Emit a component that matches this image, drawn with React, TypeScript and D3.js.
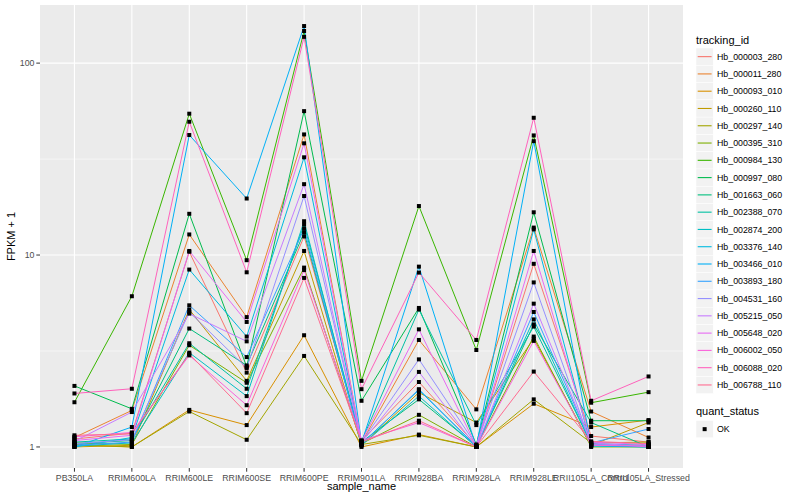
import * as d3 from 'd3';

const sampleNames = [
  'PB350LA', 'RRIM600LA', 'RRIM600LE', 'RRIM600SE', 'RRIM600PE', 'RRIM901LA',
  'RRIM928BA', 'RRIM928LA', 'RRIM928LE', 'RRII105LA_Control', 'RRII105LA_Stressed',
];

const trackingIds = [
  'Hb_000003_280', 'Hb_000011_280', 'Hb_000093_010', 'Hb_000260_110', 'Hb_000297_140',
  'Hb_000395_310', 'Hb_000984_130', 'Hb_000997_080', 'Hb_001663_060', 'Hb_002388_070',
  'Hb_002874_200', 'Hb_003376_140', 'Hb_003466_010', 'Hb_003893_180', 'Hb_004531_160',
  'Hb_005215_050', 'Hb_005648_020', 'Hb_006002_050', 'Hb_006088_020', 'Hb_006788_110',
];

// FPKM + 1, one row per tracking_id, columns in sampleNames order
const fpkmPlusOne = [
  [1.10, 1.18, 10.4, 2.44, 12.5, 1.08, 2.18, 1.02, 9.0, 1.14, 1.06],
  [1.12, 1.55, 12.8, 4.75, 42.5, 1.05, 3.61, 1.57, 13.9, 1.53, 1.12],
  [1.02, 1.00, 1.56, 1.30, 3.82, 1.00, 1.16, 1.00, 1.68, 1.27, 1.38],
  [1.00, 1.02, 5.2, 2.21, 10.5, 1.02, 1.92, 1.34, 3.67, 1.02, 1.34],
  [1.03, 1.00, 1.53, 1.09, 2.98, 1.03, 1.15, 1.00, 1.77, 1.05, 1.06],
  [1.05, 1.03, 3.39, 2.16, 8.6, 1.04, 1.47, 1.00, 3.76, 1.00, 1.00],
  [1.71, 6.1, 54.5, 9.4, 147, 2.21, 18.0, 3.2, 42, 1.70, 1.93],
  [2.08, 1.58, 16.4, 2.62, 56.2, 1.74, 5.3, 1.03, 16.7, 1.37, 1.37],
  [1.04, 1.08, 4.14, 2.66, 13.1, 1.06, 1.77, 1.01, 4.35, 1.34, 1.00],
  [1.06, 1.10, 3.47, 2.01, 14.4, 1.07, 5.2, 1.30, 4.24, 1.04, 1.02],
  [1.01, 1.05, 3.10, 1.84, 15.0, 1.02, 1.84, 1.00, 4.62, 1.03, 1.01],
  [1.00, 1.12, 8.4, 3.76, 32.3, 1.04, 1.98, 1.01, 13.6, 1.01, 1.00],
  [1.00, 1.27, 42.2, 19.7, 156, 1.05, 8.7, 1.00, 39.2, 1.02, 1.00],
  [1.02, 1.06, 5.47, 2.94, 13.7, 1.03, 2.0, 1.00, 5.05, 1.05, 1.24],
  [1.04, 1.09, 5.05, 2.58, 20.3, 1.06, 2.86, 1.02, 7.2, 1.03, 1.02],
  [1.07, 1.52, 4.95, 3.55, 23.4, 1.05, 2.46, 1.00, 5.58, 1.05, 1.00],
  [1.08, 1.15, 10.5, 4.48, 38.2, 1.07, 4.1, 1.01, 10.5, 1.06, 1.03],
  [1.13, 1.19, 3.0, 1.65, 8.35, 1.08, 1.34, 1.00, 3.57, 1.02, 1.01],
  [1.90, 2.01, 49.5, 8.13, 137, 2.0, 8.1, 3.61, 51.9, 1.74, 2.33],
  [1.15, 1.17, 3.05, 1.50, 7.6, 1.06, 1.37, 1.00, 2.47, 1.07, 1.04],
];

const yMajor = [1, 10, 100];

// ggplot hue palette, 20 levels
const palette = [
  '#F8766D', '#EA8331', '#D89000', '#C09B00', '#A3A500', '#7CAE00', '#39B600', '#00BB4E',
  '#00BF7D', '#00C1A3', '#00BFC4', '#00BAE0', '#00B0F6', '#35A2FF', '#9590FF', '#C77CFF',
  '#E76BF3', '#FA62DB', '#FF62BC', '#FF6C91',
];

const W = 800, H = 500;
const panel = { left: 40, top: 5, right: 683, bottom: 468 };
const font = '"Liberation Sans", Arial, Helvetica, sans-serif';

export default function App() {
  const x = d3.scalePoint<string>().domain(sampleNames).range([panel.left, panel.right]).padding(0.6);

  // log scale with ggplot's 5% expansion in log space
  const all = fpkmPlusOne.flat();
  const lo = Math.log10(d3.min(all)!);
  const hi = Math.log10(d3.max(all)!);
  const pad = (hi - lo) * 0.05;
  const y = d3.scaleLog().domain([10 ** (lo - pad), 10 ** (hi + pad)]).range([panel.bottom, panel.top]);

  const minor: number[] = [];
  for (let e = -3; e <= 3; e++) {
    const v = 10 ** (e + 0.5);
    if (v > y.domain()[0] && v < y.domain()[1]) minor.push(v);
  }

  const line = d3.line<number>()
    .x((_, i) => x(sampleNames[i])!)
    .y(d => y(d));

  const keyTop = 48;
  const keyH = 17.28;

  return (
    <svg width={W} height={H} style={{ position: 'absolute', left: 0, top: 0, background: '#fff' }}
      fontFamily={font}>
      <rect x={panel.left} y={panel.top} width={panel.right - panel.left}
        height={panel.bottom - panel.top} fill="#EBEBEB" />
      {minor.map(v => (
        <line key={'mn' + v} x1={panel.left} x2={panel.right} y1={y(v)} y2={y(v)}
          stroke="#fff" strokeWidth={0.55} />
      ))}
      {yMajor.map(v => (
        <line key={'mj' + v} x1={panel.left} x2={panel.right} y1={y(v)} y2={y(v)}
          stroke="#fff" strokeWidth={1.1} />
      ))}
      {sampleNames.map(s => (
        <line key={'vg' + s} x1={x(s)} x2={x(s)} y1={panel.top} y2={panel.bottom}
          stroke="#fff" strokeWidth={1.1} />
      ))}

      {fpkmPlusOne.map((row, i) => (
        <path key={'ln' + i} d={line(row)!} fill="none" stroke={palette[i]} strokeWidth={1} />
      ))}
      {fpkmPlusOne.map((row, i) => row.map((v, j) => (
        <rect key={'pt' + i + '-' + j} x={x(sampleNames[j])! - 2} y={y(v) - 2}
          width={4} height={4} fill="#000" />
      )))}

      {/* y axis */}
      {yMajor.map(v => (
        <g key={'yt' + v}>
          <line x1={panel.left - 3.7} x2={panel.left} y1={y(v)} y2={y(v)} stroke="#333" strokeWidth={1} />
          <text x={panel.left - 5.5} y={y(v)} dy="0.35em" textAnchor="end" fontSize={8.8}
            fill="#4D4D4D">{v}</text>
        </g>
      ))}
      {/* x axis */}
      {sampleNames.map(s => (
        <g key={'xt' + s}>
          <line x1={x(s)} x2={x(s)} y1={panel.bottom} y2={panel.bottom + 3.7} stroke="#333" strokeWidth={1} />
          <text x={x(s)} y={panel.bottom + 12.5} textAnchor="middle" fontSize={8.8}
            fill="#4D4D4D">{s}</text>
        </g>
      ))}
      <text x={(panel.left + panel.right) / 2} y={490} textAnchor="middle" fontSize={11}>sample_name</text>
      <text transform={`translate(15,${(panel.top + panel.bottom) / 2}) rotate(-90)`} textAnchor="middle"
        fontSize={11}>FPKM + 1</text>

      {/* legend */}
      <text x={696} y={44} fontSize={11}>tracking_id</text>
      {trackingIds.map((id, i) => {
        const ky = keyTop + i * keyH;
        return (
          <g key={'lg' + id}>
            <rect x={696} y={ky} width={keyH} height={keyH} fill="#F2F2F2" stroke="#fff" strokeWidth={0.5} />
            <line x1={697.7} x2={711.6} y1={ky + keyH / 2} y2={ky + keyH / 2} stroke={palette[i]} strokeWidth={1.1} />
            <text x={717} y={ky + keyH / 2} dy="0.35em" fontSize={8.8}>{id}</text>
          </g>
        );
      })}
      <text x={696} y={415} fontSize={11}>quant_status</text>
      <rect x={696} y={420.5} width={keyH} height={keyH} fill="#F2F2F2" stroke="#fff" strokeWidth={0.5} />
      <rect x={696 + keyH / 2 - 2} y={420.5 + keyH / 2 - 2} width={4} height={4} fill="#000" />
      <text x={717} y={420.5 + keyH / 2} dy="0.35em" fontSize={8.8}>OK</text>
    </svg>
  );
}
